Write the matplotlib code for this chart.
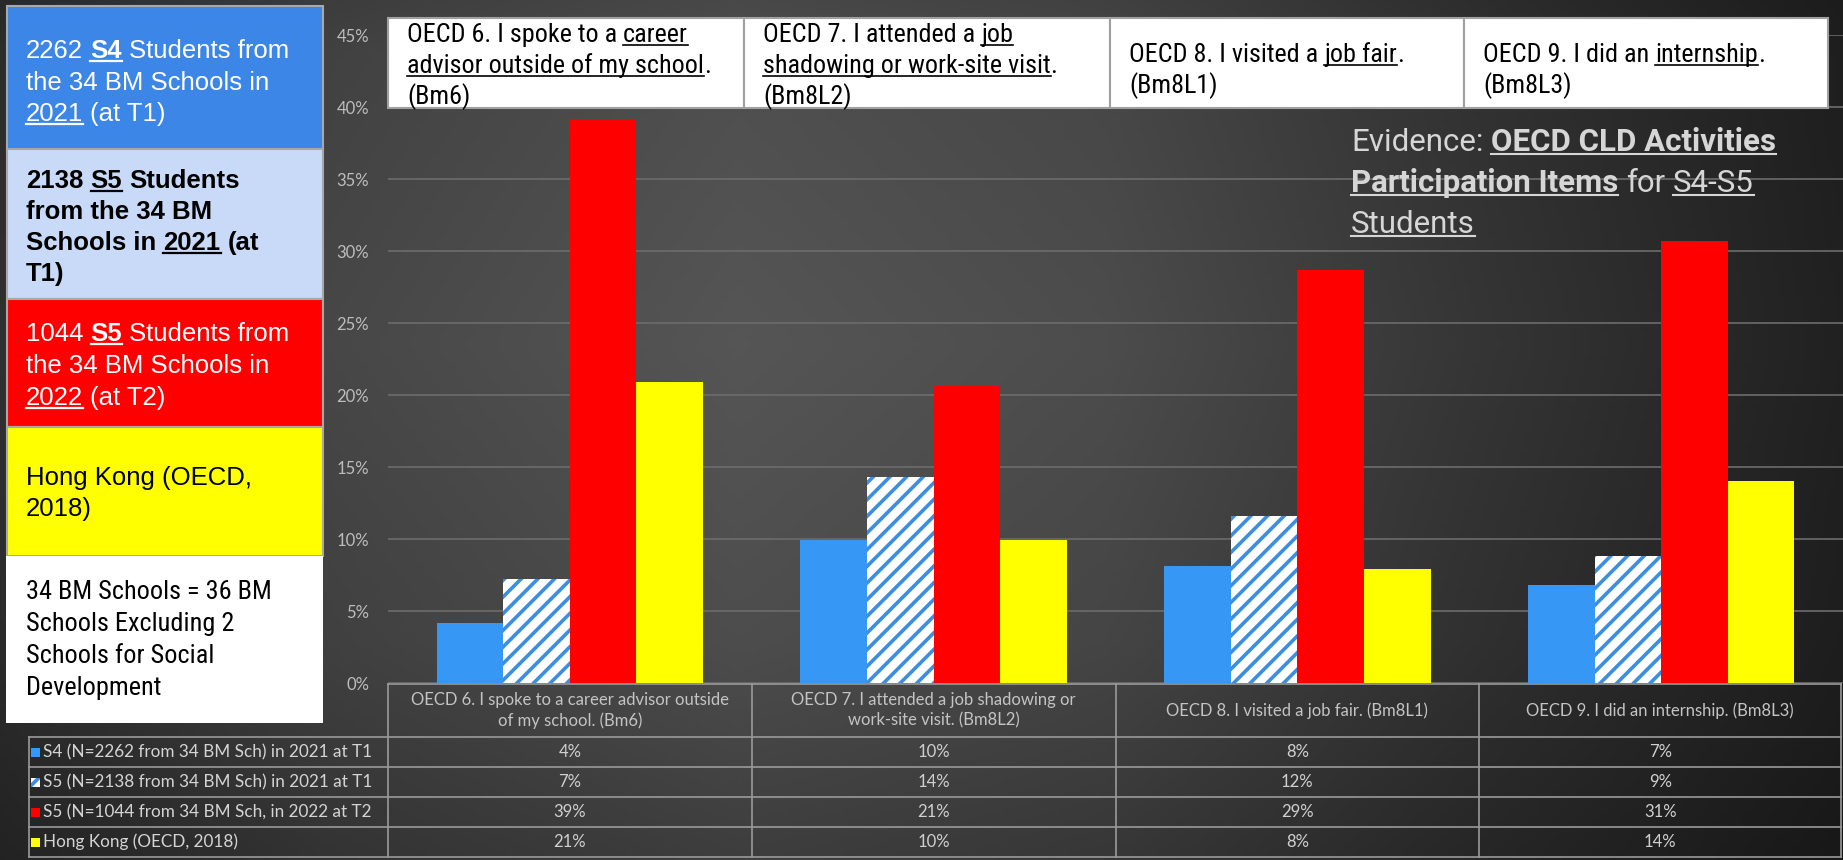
import numpy as np
import matplotlib
matplotlib.use("Agg")
import matplotlib.pyplot as plt
from matplotlib.patches import Rectangle
from matplotlib.lines import Line2D
from matplotlib import font_manager as fm

# ---------------- data ----------------
categories = [
    "OECD 6. I spoke to a career advisor outside\nof my school. (Bm6)",
    "OECD 7. I attended a job shadowing or\nwork-site visit. (Bm8L2)",
    "OECD 8. I visited a job fair. (Bm8L1)",
    "OECD 9. I did an internship. (Bm8L3)",
]
series_names = [
    "S4 (N=2262 from 34 BM Sch) in 2021 at T1",
    "S5 (N=2138 from 34 BM Sch) in 2021 at T1",
    "S5 (N=1044 from 34 BM Sch, in 2022 at T2",
    "Hong Kong (OECD, 2018)",
]
s4_2021 = [4.2, 9.9, 8.1, 6.8]
s5_2021 = [7.2, 14.3, 11.6, 8.8]
s5_2022 = [39.2, 20.6, 28.7, 30.7]
hk_2018 = [20.9, 9.9, 7.9, 14.0]
yticks = [0, 5, 10, 15, 20, 25, 30, 35, 40, 45]
ytick_labels = ["0%", "5%", "10%", "15%", "20%", "25%", "30%", "35%", "40%", "45%"]

header_runs = [
    [[("OECD 6. I spoke to a ", ""), ("career", "u")],
     [("advisor outside of my school", "u"), (".", "")],
     [("(Bm6)", "")]],
    [[("OECD 7. I attended a ", ""), ("job", "u")],
     [("shadowing or work-site visit", "u"), (".", "")],
     [("(Bm8L2)", "")]],
    [[("OECD 8. I visited a ", ""), ("job fair", "u"), (".", "")],
     [("(Bm8L1)", "")]],
    [[("OECD 9. I did an ", ""), ("internship", "u"), (".", "")],
     [("(Bm8L3)", "")]],
]
legend_box_runs = [
    [[("2262 ", ""), ("S4", "bu"), (" Students from", "")],
     [("the 34 BM Schools in", "")],
     [("2021", "u"), (" (at T1)", "")]],
    [[("2138 ", "b"), ("S5", "bu"), (" Students", "b")],
     [("from the 34 BM", "b")],
     [("Schools in ", "b"), ("2021", "bu"), (" (at", "b")],
     [("T1)", "b")]],
    [[("1044 ", ""), ("S5", "bu"), (" Students from", "")],
     [("the 34 BM Schools in", "")],
     [("2022", "u"), (" (at T2)", "")]],
    [[("Hong Kong (OECD,", "")],
     [("2018)", "")]],
]
note_lines = ["34 BM Schools = 36 BM", "Schools Excluding 2", "Schools for Social", "Development"]
evidence_runs = [
    [("Evidence: ", ""), ("OECD CLD Activities", "bu")],
    [("Participation Items", "bu"), (" for ", ""), ("S4-S5", "u")],
    [("Students", "u")],
]

# ---------------- style ----------------
W, H = 1843, 860
DPI = 100
C_BLUE = "#3797f5"
C_HATCH = "#3b8ee0"
C_RED = "#ff0000"
C_YELLOW = "#ffff00"
ARIAL = dict(family=["Liberation Sans", "DejaVu Sans"])
CAL = ["Lato", "DejaVu Sans"]
ROBOTO = dict(family=["Roboto", "DejaVu Sans"])

_entries = fm.fontManager.ttflist
_names = {e.name for e in _entries}
if "Roboto Condensed" in _names:
    NARROW = dict(family=["Roboto Condensed", "DejaVu Sans"])
elif "Liberation Sans Narrow" in _names:
    NARROW = dict(family=["Liberation Sans Narrow", "DejaVu Sans"])
elif any(e.name == "DejaVu Sans" and "condensed" in str(e.stretch) for e in _entries):
    NARROW = dict(family=["DejaVu Sans"], fontstretch="condensed")
else:
    NARROW = dict(family=["Roboto", "DejaVu Sans"])

plt.rcParams["hatch.linewidth"] = 2.6

fig = plt.figure(figsize=(W / DPI, H / DPI), dpi=DPI)
renderer = fig.canvas.get_renderer()


def fx(px):
    return px / W


def fy(py):
    return 1 - py / H


# background gradient
xs = np.linspace(0, 1, 400)
ys = np.linspace(0, 1, 200)
hx = np.interp(xs, [0, 0.18, 0.4, 0.6, 0.8, 1.0], [0.19, 0.28, 0.335, 0.30, 0.21, 0.13])
vy = np.interp(ys, [0, 0.06, 0.4, 0.75, 1.0], [0.85, 0.92, 1.0, 0.9, 0.72])
Z = np.outer(vy, hx)
bg = fig.add_axes([0, 0, 1, 1], zorder=-10)
bg.imshow(np.dstack([Z, Z, Z]), extent=(0, 1, 0, 1), aspect="auto", origin="upper")
bg.set_axis_off()

# ---------------- main axes ----------------
ax = fig.add_axes([fx(388), fy(683), fx(1843 - 388), (683 - 35) / H])
ax.patch.set_alpha(0)
x = np.arange(len(categories))
bw = 0.183
series = [s4_2021, s5_2021, s5_2022, hk_2018]
styles = [
    dict(color=C_BLUE),
    dict(facecolor="white", edgecolor=C_HATCH, hatch="//", linewidth=0),
    dict(color=C_RED),
    dict(color=C_YELLOW),
]
for i, (vals, st) in enumerate(zip(series, styles)):
    ax.bar(x + (i - 1.5) * bw, vals, bw, zorder=3, **st)
ax.set_xlim(-0.5, 3.5)
ax.set_ylim(0, 45)
ax.set_yticks(yticks)
ax.set_yticklabels(ytick_labels, family=CAL, fontsize=12, color="#bdbdbd")
ax.tick_params(axis="y", length=0, pad=13.5)
ax.set_xticks([])
ax.grid(axis="y", color="#6c6c6c", linewidth=1.2, zorder=0)
for s in ax.spines.values():
    s.set_visible(False)

fig.canvas.draw()
inv = fig.transFigure.inverted()


def dxfig(xd):
    return inv.transform(ax.transData.transform((xd, 0)))[0]


# ---------------- rich text helper ----------------
def text_w(s, **kw):
    t = fig.text(0, 0, s, **kw)
    w = t.get_window_extent(renderer).width
    t.remove()
    return w


def advance(s, **kw):
    return text_w("|" + s + "|", **kw) - text_w("||", **kw)


def run_kw(st, size, fontkw):
    kw = dict(fontsize=size, weight="bold" if "b" in st else "normal")
    kw.update(fontkw)
    return kw


def line_width(runs, size, fontkw):
    return sum(advance(t, **run_kw(st, size, fontkw)) for t, st in runs)


def fit_size(runs, target, fontkw, base=18.0):
    return base * target / line_width(runs, base, fontkw)


def draw_runs(x0, ybase, runs, size, color, fontkw, ulw=1.4, z=6):
    xcur = x0
    for txt, st in runs:
        kw = run_kw(st, size, fontkw)
        lead = len(txt) - len(txt.lstrip(" "))
        core = txt.strip(" ")
        xstart = xcur + (advance(" " * lead, **kw) if lead else 0)
        fig.text(fx(xstart), fy(ybase), core, color=color, ha="left", va="baseline", zorder=z, **kw)
        wcore = advance(core, **kw)
        if "u" in st:
            uy = ybase + size * DPI / 72 * 0.11
            fig.add_artist(Line2D([fx(xstart), fx(xstart + wcore)], [fy(uy), fy(uy)],
                                  color=color, linewidth=ulw, zorder=z))
        xcur += advance(txt, **kw)


# ---------------- left legend panel ----------------
box_specs = [
    (6, 149, "#3b86e6", "white", [58, 90, 121]),
    (149, 299, "#c9daf8", "black", [188, 219, 250, 281]),
    (299, 427, "#ff0000", "white", [341, 373, 405]),
    (427, 556, "#ffff00", "black", [485, 516]),
]
for (y0, y1, fc, tc, bases), lines in zip(box_specs, legend_box_runs):
    fig.add_artist(Rectangle((fx(7), fy(y1)), fx(323 - 7), (y1 - y0) / H, facecolor=fc,
                             edgecolor="#a8a8a8", linewidth=1.5, transform=fig.transFigure, zorder=2))
    for yb, runs in zip(bases, lines):
        draw_runs(26, yb, runs, 18.5, tc, ARIAL, ulw=1.6)

fig.add_artist(Rectangle((fx(6), fy(723)), fx(323 - 6), (723 - 556) / H, facecolor="white",
                         edgecolor="none", transform=fig.transFigure, zorder=2))
note_size = min(19.0, fit_size([(note_lines[0], "")], 246, NARROW))
for yb, line in zip([599, 631, 663, 695], note_lines):
    draw_runs(26, yb, [(line, "")], note_size, "black", NARROW)

# ---------------- header boxes ----------------
hb_edges = [388, 744, 1110, 1464, 1828]
hb_bases = [[42, 73, 104], [42, 73, 104], [62, 93], [62, 93]]
head_size = min(19.0, fit_size(header_runs[0][1], 304, NARROW))
for i, lines in enumerate(header_runs):
    xl, xr = hb_edges[i], hb_edges[i + 1]
    fig.add_artist(Rectangle((fx(xl), fy(108)), fx(xr - xl), 90 / H, facecolor="white",
                             edgecolor="#a0a0a0", linewidth=1.5, transform=fig.transFigure, zorder=4))
    for yb, runs in zip(hb_bases[i], lines):
        draw_runs(xl + 19, yb, runs, head_size, "black", NARROW, ulw=1.2, z=6)

# ---------------- evidence text ----------------
ev_size = min(22.5, fit_size(evidence_runs[0], 441, ROBOTO))
for yb, runs in zip([151, 192, 233], evidence_runs):
    draw_runs(1351, yb, runs, ev_size, "#d6d6d6", ROBOTO, ulw=1.5)

# ---------------- data table ----------------
LC = "#9a9a9a"
y_head, rows_y = 684, [737, 767, 797, 827, 857]
xl_lab = fx(29)
xr_tab = dxfig(3.5) - fx(2)
col_edges = [dxfig(e) for e in np.arange(-0.5, 3.0, 1.0)] + [xr_tab]
fig.add_artist(Line2D([col_edges[0], xr_tab], [fy(y_head)] * 2, color=LC, lw=1.2))
for yy in rows_y:
    fig.add_artist(Line2D([xl_lab, xr_tab], [fy(yy)] * 2, color=LC, lw=1.2))
for ce in col_edges:
    fig.add_artist(Line2D([ce, ce], [fy(y_head), fy(rows_y[-1])], color=LC, lw=1.2))
fig.add_artist(Line2D([xl_lab, xl_lab], [fy(rows_y[0]), fy(rows_y[-1])], color=LC, lw=1.2))
for i, cat in enumerate(categories):
    cx = (col_edges[i] + col_edges[i + 1]) / 2
    fig.text(cx, fy((y_head + rows_y[0]) / 2), cat, ha="center", va="center", fontsize=12,
             family=CAL, color="#c4c4c4", linespacing=1.35)
for r, (name, vals) in enumerate(zip(series_names, series)):
    yc = (rows_y[r] + rows_y[r + 1]) / 2
    st = styles[r]
    fig.add_artist(Rectangle((fx(31), fy(yc + 4.5)), fx(9), 9 / H, transform=fig.transFigure,
                             facecolor=st.get("facecolor", st.get("color")),
                             edgecolor=st.get("edgecolor", "none"), hatch=st.get("hatch"),
                             linewidth=0))
    fig.text(fx(43), fy(yc), name, ha="left", va="center", fontsize=12.3, family=CAL, color="#d4d4d4")
    for i, v in enumerate(vals):
        cx = (col_edges[i] + col_edges[i + 1]) / 2
        fig.text(cx, fy(yc), f"{round(v)}%", ha="center", va="center", fontsize=12,
                 family=CAL, color="#d0d0d0")

fig.savefig("out.png", dpi=DPI)
